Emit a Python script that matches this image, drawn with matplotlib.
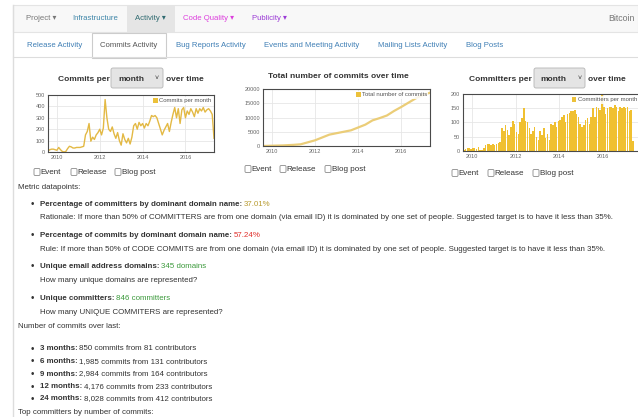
import numpy as np
import pandas as pd
import matplotlib
matplotlib.use("Agg")
import matplotlib.pyplot as plt
from matplotlib.patches import Rectangle, FancyBboxPatch, Patch

plt.rcParams['font.family'] = ['Liberation Sans', 'DejaVu Sans']

W, H = 638, 417

# ---- data ----
month_start = "2009-08"
commits_per_month = [
    10, 20, 25, 25, 20,
    15, 40, 20, 5, 0, 5, 30, 50, 45, 35, 35, 40,
    40, 40, 45, 50, 150, 180, 250, 95, 130, 110, 150, 170,
    200, 150, 210, 460, 300, 200, 180, 220, 160, 120, 170, 100,
    60, 160, 110, 80, 120, 70, 130, 230, 250, 200, 260, 230,
    250, 210, 250, 230, 270, 320, 310, 320, 300, 250, 200, 150,
    190, 220, 250, 180, 260, 330, 390, 300, 380, 250, 370, 390,
    300, 360, 330, 380, 350, 310, 380, 340, 380, 360, 390, 350,
    370, 380, 360, 330, 120,
]
committers_per_month = [
    3, 8, 12, 10, 8,
    10, 12, 8, 15, 5, 3, 10, 20, 25, 25, 22, 25,
    22, 25, 28, 30, 80, 70, 90, 75, 55, 85, 105, 95,
    65, 60, 100, 115, 150, 105, 100, 80, 60, 70, 85, 50,
    40, 70, 55, 80, 45, 60, 40, 95, 90, 100, 85, 105,
    110, 120, 125, 100, 130, 135, 140, 140, 145, 130, 120, 95,
    85, 90, 110, 115, 95, 120, 150, 120, 155, 150, 145, 195,
    155, 130, 150, 155, 155, 150, 160, 155, 140, 155, 150, 155,
    150, 155, 140, 145, 35,
]
total_dates = ["2009-08", "2010-01", "2010-07", "2011-01", "2011-05", "2011-09",
               "2012-01", "2012-05", "2012-09", "2013-01", "2013-05", "2013-09",
               "2014-01", "2014-05", "2014-09", "2015-01", "2015-05", "2015-09",
               "2016-01", "2016-05", "2016-09", "2017-01", "2017-05"]
total_commits = [0, 100, 200, 400, 600, 1300, 2000, 3000, 4000, 4500, 5000, 5500,
                 6500, 7500, 9000, 9800, 10700, 12300, 13700, 15200, 16700, 17900, 18700]

nav_items = ["Project \u25BE", "Infrastructure", "Activity \u25BE", "Code Quality \u25BE", "Publicity \u25BE"]
nav_colors = ["#777777", "#3d85a8", "#2f6a70", "#dd3fdd", "#9b3bd6"]
nav_x = [26, 72, 135, 183, 252]
sub_tabs = ["Release Activity", "Commits Activity", "Bug Reports Activity",
            "Events and Meeting Activity", "Mailing Lists Activity", "Blog Posts"]
sub_x = [27, 100, 176, 264, 378, 466]

metric_labels = ["Percentage of committers by dominant domain name:",
                 "Percentage of commits by dominant domain name:",
                 "Unique email address domains:",
                 "Unique committers:"]
metric_values = ["37.01%", "57.24%", "345 domains", "846 committers"]
metric_colors = ["#b89b30", "#e0302c", "#3c9a3c", "#3c9a3c"]
metric_notes = [
    "Rationale: If more than 50% of COMMITTERS are from one domain (via email ID) it is dominated by one set of people. Suggested target is to have it less than 35%.",
    "Rule: If more than 50% of CODE COMMITS are from one domain (via email ID) it is dominated by one set of people. Suggested target is to have it less than 35%.",
    "How many unique domains are represented?",
    "How many UNIQUE COMMITERS are represented?",
]
window_labels = ["3 months:", "6 months:", "9 months:", "12 months:", "24 months:"]
window_commits = ["850", "1,985", "2,984", "4,176", "8,028"]
window_contribs = ["81", "131", "164", "233", "412"]

GOLD = "#ecc13a"
TXT = "#333333"
FS = 5.65

fig = plt.figure(figsize=(W / 100, H / 100), dpi=100)
renderer = fig.canvas.get_renderer()

bg = fig.add_axes([0, 0, 1, 1])
bg.set_xlim(0, W)
bg.set_ylim(H, 0)
bg.axis("off")


def px_axes(l, t, r, b):
    return fig.add_axes([l / W, 1 - b / H, (r - l) / W, (b - t) / H])


def inline(parts, x, y, size=FS):
    for s, c, w in parts:
        t = bg.text(x, y, s, color=c, fontsize=size, fontweight=w, va="center", ha="left")
        x = t.get_window_extent(renderer).x1 + 1.5
    return x


# page edge + nav bar
bg.plot([13, 13], [5, H], color="#dddddd", lw=1)
bg.add_patch(Rectangle((13, 5), W - 13, 27, fc="#f8f8f8", ec="#e4e4e4", lw=0.8))
bg.add_patch(Rectangle((127, 5.5), 48, 26, fc="#e5e5e5", ec="none"))
for s, c, x in zip(nav_items, nav_colors, nav_x):
    bg.text(x, 18, s, color=c, fontsize=5.6, va="center")
bg.text(635, 18, "Bitcoin", color="#777777", fontsize=6.3, va="center", ha="right")

# sub tabs
bg.plot([13, W], [57, 57], color="#dddddd", lw=0.8)
bg.add_patch(Rectangle((92, 33), 74, 24.5, fc="white", ec="#cccccc", lw=0.8))
for s, x in zip(sub_tabs, sub_x):
    col = "#555555" if s == "Commits Activity" else "#3f7fb5"
    bg.text(x, 45, s, color=col, fontsize=5.6, va="center")


def button(x0, x1, tx, cx):
    bg.add_patch(FancyBboxPatch((x0, 68), x1 - x0, 20, boxstyle="round,pad=0,rounding_size=2",
                                fc="#e4e4e4", ec="#b5b5b5", lw=0.6))
    bg.text(tx, 79, "month", fontsize=6, fontweight="bold", color=TXT, va="center")
    bg.text(cx, 78, "\u02C5", fontsize=5, color=TXT, va="center")


# chart titles
bg.text(58, 79, "Commits per", fontsize=6, fontweight="bold", color=TXT, va="center")
button(111, 163, 118, 155)
bg.text(166, 79, "over time", fontsize=6, fontweight="bold", color=TXT, va="center")
bg.text(338, 76, "Total number of commits over time", fontsize=6, fontweight="bold",
        color=TXT, va="center", ha="center")
bg.text(469, 79, "Committers per", fontsize=6, fontweight="bold", color=TXT, va="center")
button(534, 585, 540, 578)
bg.text(588, 79, "over time", fontsize=6, fontweight="bold", color=TXT, va="center")


def checkboxes(xs, y):
    for x, s in zip(xs, ["Event", "Release", "Blog post"]):
        bg.add_patch(FancyBboxPatch((x, y - 3.5), 6, 7, boxstyle="round,pad=0,rounding_size=1.2",
                                    fc="white", ec="#8a8a8a", lw=0.6))
        bg.text(x + 6.5, y, s, fontsize=5.8, color=TXT, va="center")


checkboxes([34, 71, 115], 172)
checkboxes([245, 280, 325], 169)
checkboxes([452, 488, 533], 173)

# charts
months = pd.date_range(month_start, periods=len(commits_per_month), freq="MS")
mx = months.year + (months.month - 1) / 12
td = pd.to_datetime(total_dates)
tx = td.year + (td.month - 1) / 12


def style(ax, yt, xl):
    ax.set_xlim(*xl)
    ax.set_ylim(yt[0], yt[-1])
    ax.set_yticks(yt)
    ax.set_xticks([2010, 2012, 2014, 2016])
    ax.set_xticklabels(["2010", "2012", "2014", "2016"])
    ax.grid(True, color="#e6e6e6", lw=0.6)
    ax.set_axisbelow(True)
    ax.tick_params(length=0, labelsize=4, colors="#666666", pad=2)
    for sp in ax.spines.values():
        sp.set_color("#4a4a4a")
        sp.set_linewidth(0.8)


def legend(ax, label):
    lg = ax.legend(handles=[Patch(fc=GOLD, ec="none", label=label)], loc="upper right",
                   fontsize=4.3, frameon=True, framealpha=0.85, edgecolor="none",
                   handlelength=0.8, handleheight=0.8, handletextpad=0.2,
                   borderpad=0.2, borderaxespad=0.3)
    for t in lg.get_texts():
        t.set_color("#555555")


ax1 = px_axes(48, 95, 214, 152)
ax1.plot(mx, commits_per_month, color="#e3b944", lw=1.0)
style(ax1, [0, 100, 200, 300, 400, 500], (mx[0], mx[-1]))
legend(ax1, "Commits per month")

ax2 = px_axes(263, 89, 430, 146)
ax2.plot(tx, total_commits, color="#ebcd78", lw=1.6)
style(ax2, [0, 5000, 10000, 15000, 20000], (mx[0], mx[-1]))
legend(ax2, "Total number of commits")

ax3 = px_axes(463, 94, 640, 151)
ax3.bar(mx, committers_per_month, width=0.07, align="edge", color="#f0c030", lw=0)
style(ax3, [0, 50, 100, 150, 200], (mx[0], 2017.69))
legend(ax3, "Committers per month")

# metric text
bg.text(18, 187, "Metric datapoints:", fontsize=FS, color=TXT, va="center")
item_y = [204, 235, 266, 298]
note_y = [217, 249, 280, 312]
for lab, val, col, note, y, ny in zip(metric_labels, metric_values, metric_colors,
                                      metric_notes, item_y, note_y):
    bg.text(31, y, "\u2022", fontsize=7, color=TXT, va="center")
    inline([(lab, TXT, "bold"), (val, col, "normal")], 40, y)
    bg.text(40, ny, note, fontsize=FS, color=TXT, va="center")

bg.text(18, 326, "Number of commits over last:", fontsize=FS, color=TXT, va="center")
for k, (lab, c, n) in enumerate(zip(window_labels, window_commits, window_contribs)):
    y = 349 + 12.5 * k
    bg.text(31, y, "\u2022", fontsize=7, color=TXT, va="center")
    inline([(lab, TXT, "bold"), (f"{c} commits from {n} contributors", TXT, "normal")], 40, y)

bg.text(18, 412, "Top committers by number of commits:", fontsize=FS, color=TXT, va="center")

fig.savefig("out.png", dpi=100)
